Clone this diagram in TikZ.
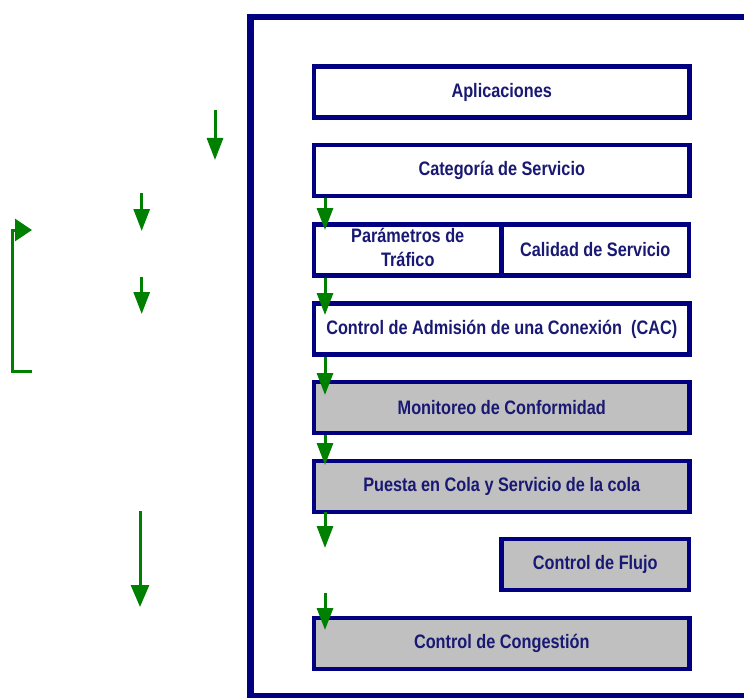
\documentclass[tikz,border=0pt]{standalone}
\usepackage{fontspec}
\setmainfont{Liberation Sans}
\usepackage{graphicx}
\usetikzlibrary{arrows.meta}
\definecolor{navy}{RGB}{0,0,128}
\definecolor{txtblue}{RGB}{25,25,115}
\definecolor{ggreen}{RGB}{0,128,0}
\definecolor{boxgray}{RGB}{192,192,192}
\newcommand\sq[1]{\scalebox{0.835}[1]{#1}}
\begin{document}
\begin{tikzpicture}[x=1pt,y=-1pt,
  box/.style={draw=navy, line width=4.5pt, minimum width=375.5pt, minimum height=51pt,
    inner sep=0pt, text=txtblue, font=\fontsize{19.5}{24}\selectfont\bfseries},
  halfbox/.style={box, minimum width=187.5pt},
  grbox/.style={fill=boxgray},
  garrow/.style={draw=ggreen, line width=3pt, -{Triangle[width=16pt,length=22pt]}},
  garrowbig/.style={draw=ggreen, line width=3pt, -{Triangle[width=18pt,length=22pt]}}
]
\useasboundingbox (0,0) rectangle (744,698);
\fill[white] (0,0) rectangle (744,698);
% outer frame
\draw[navy, line width=6.5pt] (250.5,17) rectangle (780,696);
% boxes
\node[box] (apl) at (501.75,92) {\sq{Aplicaciones}};
\node[box] (cat) at (501.75,170.5) {\sq{Categoría de Servicio}};
\node[halfbox] (par) at (407.75,250) {\sq{\begin{tabular}{@{}c@{}}Parámetros de\\Tráfico\end{tabular}}};
\node[halfbox] (cal) at (595.25,250) {\sq{Calidad de Servicio}};
\node[box] (cac) at (501.75,329) {\sq{Control de Admisión de una Conexión\ \ (CAC)}};
\node[box,grbox] (mon) at (501.75,407.5) {\sq{Monitoreo de Conformidad}};
\node[box,grbox] (pue) at (501.75,486.5) {\sq{Puesta en Cola y Servicio de la cola}};
\node[halfbox,grbox] (flu) at (595.25,564.5) {\sq{Control de Flujo}};
\node[box,grbox] (con) at (501.75,643.5) {\sq{Control de Congestión}};
% inner arrows
\coordinate (t1) at (325,230);
\coordinate (t2) at (325,315);
\coordinate (t3) at (325,395);
\coordinate (t4) at (325,465);
\coordinate (s5) at (325,512);
\coordinate (t5) at (325,548);
\coordinate (s6) at (325,593);
\coordinate (t6) at (325,630);
\draw[garrow] (cat.south -| t1) -- (t1);
\draw[garrow] (par.south -| t2) -- (t2);
\draw[garrow] (cac.south -| t3) -- (t3);
\draw[garrow] (mon.south -| t4) -- (t4);
\draw[garrow] (s5) -- (t5);
\draw[garrow] (s6) -- (t6);
% left arrows
\coordinate (a1) at (215,110); \coordinate (a2) at (215,160);
\coordinate (b1) at (141.7,193); \coordinate (b2) at (141.7,231);
\coordinate (c1) at (141.7,277); \coordinate (c2) at (141.7,314);
\coordinate (d1) at (140,511); \coordinate (d2) at (140,607);
\draw[garrow] (a1) -- (a2);
\draw[garrow] (b1) -- (b2);
\draw[garrow] (c1) -- (c2);
\draw[garrowbig] (d1) -- (d2);
% bracket
\coordinate (k1) at (32,371); \coordinate (k2) at (12,371);
\coordinate (k3) at (12,230); \coordinate (k4) at (32,230);
\draw[draw=ggreen, line width=3pt, -{Triangle[width=22pt,length=17pt]}] (k1) -- (k2) -- (k3) -- (k4);
\end{tikzpicture}
\end{document}
